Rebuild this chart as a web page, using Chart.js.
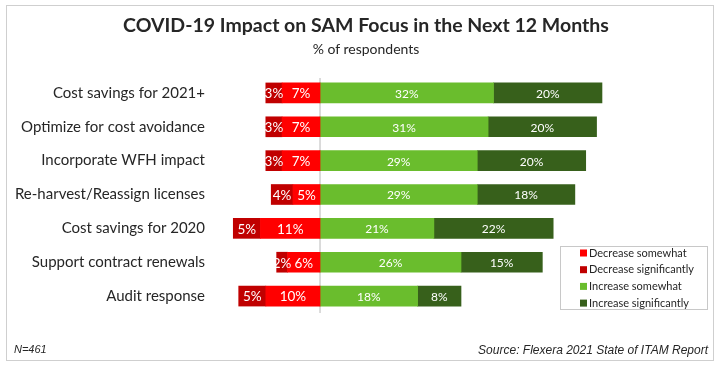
<!DOCTYPE html>
<html>
<head>
<meta charset="utf-8">
<script src="https://cdn.jsdelivr.net/npm/chart.js@4"></script>
<style>
  body { margin: 0; background: #fff; font-family: Lato, sans-serif; }
  #wrap { position: relative; width: 720px; height: 368px; }
  #frame { position: absolute; left: 6px; top: 5px; width: 706px; height: 354px; border: 1px solid #cfcfcf; }
  #title { position: absolute; left: 0; width: 732px; top: 13px; text-align: center; font: bold 19.5px Lato, sans-serif; color: #262626; }
  #sub { position: absolute; left: 0; width: 732px; top: 40px; text-align: center; font: 14px Lato, sans-serif; color: #262626; }
  #n { position: absolute; left: 14px; top: 343px; font: italic 11px "Liberation Sans", Arial, sans-serif; color: #262626; }
  #src { position: absolute; right: 12px; top: 343px; font: italic 12px "Liberation Sans", Arial, sans-serif; color: #262626; }
  #c { position: absolute; left: 0; top: 0; }
</style>
</head>
<body>
<div id="wrap">
  <div id="frame"></div>
  <canvas id="c" width="720" height="368"></canvas>
  <div id="title">COVID-19 Impact on SAM Focus in the Next 12 Months</div>
  <div id="sub">% of respondents</div>
  <div id="n">N=461</div>
  <div id="src">Source: Flexera 2021 State of ITAM Report</div>
</div>
<script>
const categories = [
  "Cost savings for 2021+",
  "Optimize for cost avoidance",
  "Incorporate WFH impact",
  "Re-harvest/Reassign licenses",
  "Cost savings for 2020",
  "Support contract renewals",
  "Audit response"
];
const decreaseSomewhat = [-7, -7, -7, -5, -11, -6, -10];
const decreaseSignificantly = [-3, -3, -3, -4, -5, -2, -5];
const increaseSomewhat = [32, 31, 29, 29, 21, 26, 18];
const increaseSignificantly = [20, 20, 20, 18, 22, 15, 8];
const seriesNames = ["Decrease somewhat", "Decrease significantly", "Increase somewhat", "Increase significantly"];
const seriesColors = ["#ff0000", "#c00000", "#6abd2d", "#37601b"];

// white % labels inside every segment (red side uses a bigger font)
const barLabels = {
  id: "barLabels",
  afterDatasetsDraw(chart) {
    const ctx = chart.ctx;
    ctx.save();
    ctx.fillStyle = "#fff";
    ctx.textAlign = "center";
    ctx.textBaseline = "middle";
    chart.data.datasets.forEach((ds, i) => {
      chart.getDatasetMeta(i).data.forEach((bar, j) => {
        const v = ds.data[j];
        ctx.font = v < 0 ? "13.5px Lato" : "12px Lato";
        ctx.fillText(Math.abs(v) + "%", (bar.x + bar.base) / 2, bar.y + 1);
      });
    });
    ctx.restore();
  }
};

// zero line
const zeroLine = {
  id: "zeroLine",
  beforeDatasetsDraw(chart) {
    const ctx = chart.ctx, a = chart.chartArea;
    const x = chart.scales.x.getPixelForValue(0);
    ctx.save();
    ctx.strokeStyle = "#d0d0d0";
    ctx.lineWidth = 1.5;
    ctx.beginPath();
    ctx.moveTo(x, a.top + 2);
    ctx.lineTo(x, a.bottom);
    ctx.stroke();
    ctx.restore();
  }
};

// boxed legend lower right
const boxLegend = {
  id: "boxLegend",
  afterDraw(chart) {
    const ctx = chart.ctx;
    const left = 560, top = 246, w = 147, h = 63;
    ctx.save();
    ctx.strokeStyle = "#c8c8c8";
    ctx.lineWidth = 1;
    ctx.fillStyle = "#fff";
    ctx.fillRect(left, top, w, h);
    ctx.strokeRect(left + 0.5, top + 0.5, w, h);
    ctx.font = "11px Lato";
    ctx.textBaseline = "middle";
    chart.data.datasets.forEach((ds, i) => {
      const y = top + 6.5 + i * 16.7;
      ctx.fillStyle = ds.backgroundColor;
      ctx.fillRect(left + 20, y - 3, 7, 7);
      ctx.fillStyle = "#262626";
      ctx.fillText(ds.label, left + 29, y + 0.5);
    });
    ctx.restore();
  }
};

const datasets = [decreaseSomewhat, decreaseSignificantly, increaseSomewhat, increaseSignificantly].map((d, i) => ({
  label: seriesNames[i],
  data: d,
  backgroundColor: seriesColors[i],
  barThickness: 20
}));

new Chart(document.getElementById("c"), {
  type: "bar",
  data: { labels: categories, datasets: datasets },
  options: {
    indexAxis: "y",
    responsive: false,
    animation: false,
    devicePixelRatio: 1,
    layout: { padding: { top: 76, bottom: 55, left: 0, right: 15 } },
    plugins: { legend: { display: false }, tooltip: { enabled: false } },
    scales: {
      x: { stacked: true, display: false, min: -18.45, max: 71 },
      y: {
        stacked: true,
        grid: { display: false },
        border: { display: false },
        ticks: { color: "#262626", font: { family: "Lato", size: 15 }, padding: 7 },
        afterFit(scale) { scale.width = 220; }
      }
    }
  },
  plugins: [zeroLine, barLabels, boxLegend]
});
</script>
</body>
</html>
